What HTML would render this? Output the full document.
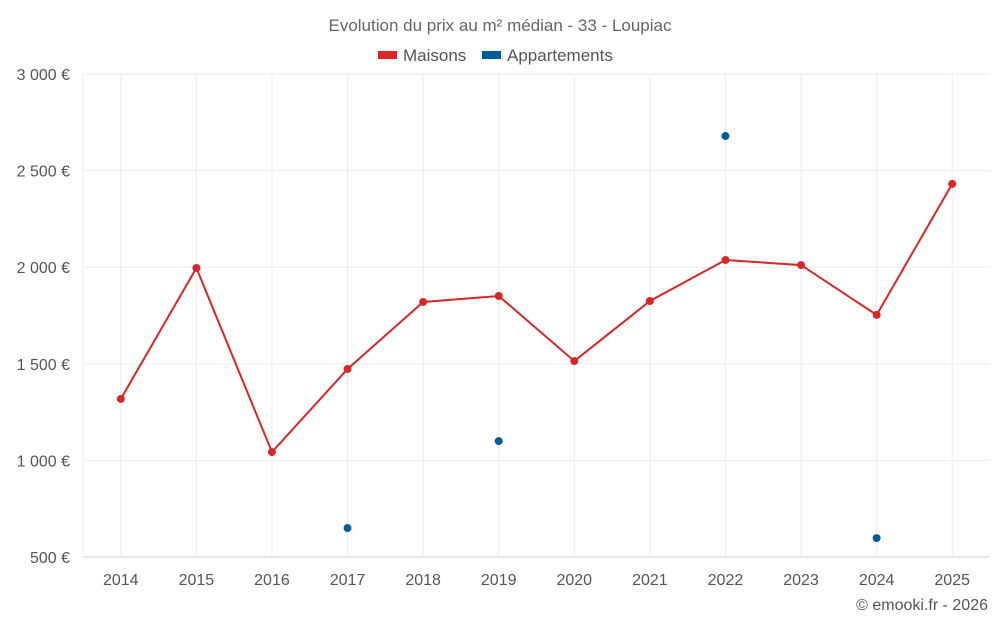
<!DOCTYPE html>
<html><head><meta charset="utf-8"><style>
body{margin:0;background:#fff;font-family:"Liberation Sans",sans-serif;}
svg text{font-family:"Liberation Sans",sans-serif;}
</style></head><body>
<svg id="c" width="1000" height="625">
<text x="500" y="31" text-anchor="middle" font-size="17" fill="#666">Evolution du prix au m² médian - 33 - Loupiac</text>
<g>
<g><rect x="378" y="51" width="19" height="8" fill="#d92626"/><text x="403" y="61" font-size="17" fill="#555">Maisons</text></g>
<g><rect x="482" y="51" width="19" height="8" fill="#005d99"/><text x="507" y="61" font-size="17" fill="#555">Appartements</text></g>
</g>
<g id="grid"></g><g id="axes"></g><g id="marks"></g>
<text x="988" y="610" text-anchor="end" font-size="16" fill="#555">© emooki.fr - 2026</text>
</svg>
<script>
const years=[2014,2015,2016,2017,2018,2019,2020,2021,2022,2023,2024,2025];
const maisons=[1318,1996,1043,1473,1820,1851,1514,1825,2037,2011,1753,2431];
const appartements=[null,null,null,650,null,1100,null,null,2679,null,598,null];
const yTicks=[500,1000,1500,2000,2500,3000];
const yLabels=["500 €","1 000 €","1 500 €","2 000 €","2 500 €","3 000 €"];
const NS="http://www.w3.org/2000/svg";
const L=83,R=990,T=74,B=557,ymin=500,ymax=3000;
const step=(R-L)/years.length;
const x=i=>L+step*(i+0.5);
const y=v=>B-(v-ymin)/(ymax-ymin)*(B-T);
function mk(p,t,a){const e=document.createElementNS(NS,t);for(const k in a)e.setAttribute(k,a[k]);document.getElementById(p).appendChild(e);return e;}
yTicks.forEach((v,i)=>{
 const g=mk('grid','line',{x1:L,x2:R,y1:y(v),y2:y(v),stroke:i==0?'#ccc':'#ebebeb'});
 
 
 const t=mk('axes','text',{x:70,y:y(v)+6,'text-anchor':'end','font-size':16,fill:'#555'});
 t.textContent=yLabels[i];
 
 
});
mk('grid','line',{x1:L,x2:L,y1:T,y2:B,stroke:'#ebebeb'});
years.forEach((yr,i)=>{
 const g=mk('grid','line',{x1:x(i),x2:x(i),y1:T,y2:B,stroke:'#ebebeb'});
 
 
 const t=mk('axes','text',{x:x(i),y:585,'text-anchor':'middle','font-size':16,fill:'#555'});
 t.textContent=yr;
 
 
});
const pl=mk('marks','polyline',{points:maisons.map((v,i)=>x(i)+','+y(v)).join(' '),fill:'none',stroke:'#d92626','stroke-width':2});


maisons.forEach((v,i)=>{
 const c=mk('marks','circle',{cx:x(i),cy:y(v),r:4,fill:'#d92626'});
 
 
});
appartements.forEach((v,i)=>{
 if(v==null)return;
 const c=mk('marks','circle',{cx:x(i),cy:y(v),r:4,fill:'#005d99'});
 
 
});
</script>
</body></html>
